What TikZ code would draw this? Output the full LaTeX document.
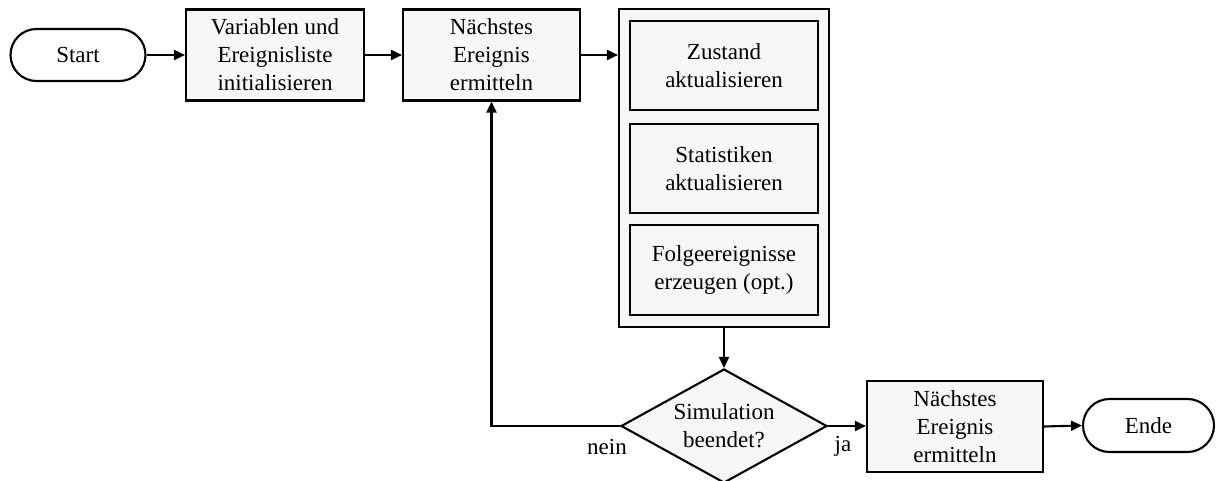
\documentclass[tikz,border=0pt]{standalone}
\usepackage{fontspec}
\setmainfont{Liberation Serif}
\usetikzlibrary{shapes.geometric,shapes.misc,arrows.meta}
\tikzset{
  every node/.style={font=\fontsize{23}{28}\selectfont, align=center, inner sep=0pt},
  box/.style={draw, line width=2.1pt, fill=white!97!black, rectangle},
  term/.style={draw, line width=2.1pt, fill=white, rounded rectangle},
  flow/.style={line width=2.1pt, -{Triangle[length=11pt,width=10pt]}},
  lbl/.style={font=\fontsize{23}{28}\selectfont}
}
\begin{document}
\begin{tikzpicture}[x=1pt,y=-1pt]
\useasboundingbox (0,0) rectangle (1216,481);
\node[term, minimum width=135pt, minimum height=52pt] (start) at (78,55) {Start};
\node[box, minimum width=178pt, minimum height=91pt] (init) at (275,55) {Variablen und\\Ereignisliste\\initialisieren};
\node[box, minimum width=177pt, minimum height=91pt] (next) at (491.5,55) {Nächstes\\Ereignis\\ermitteln};
\node[box, minimum width=210pt, minimum height=318pt] (cont) at (724,168) {};
\node[box, minimum width=188pt, minimum height=89pt] (zust) at (724,65.5) {Zustand\\aktualisieren};
\node[box, minimum width=188pt, minimum height=89pt] (stat) at (724,168.5) {Statistiken\\aktualisieren};
\node[box, minimum width=188pt, minimum height=90pt] (folge) at (724,270) {Folgeereignisse\\erzeugen (opt.)};
\node[box, diamond, minimum width=206pt, minimum height=114pt, aspect=1.8] (sim) at (724,426) {Simulation\\beendet?};
\node[box, minimum width=176pt, minimum height=91pt] (next2) at (955,426.5) {Nächstes\\Ereignis\\ermitteln};
\node[term, minimum width=131pt, minimum height=53pt] (ende) at (1148.5,425.5) {Ende};
\node[lbl] (nein) at (607,447) {nein};
\node[lbl] (ja) at (843,446) {ja};
\draw[flow] (start.east) -- (init.west);
\draw[flow] (init.east) -- (next.west);
\draw[flow] (next.east) -- (cont.west |- next.east);
\draw[flow] (cont.south) -- (sim.north);
\draw[flow] (sim.west) -| (next.south);
\draw[flow] (sim.east) -- (sim.east -| next2.west);
\draw[flow] (next2.east) -- (ende.west);
\end{tikzpicture}
\end{document}
